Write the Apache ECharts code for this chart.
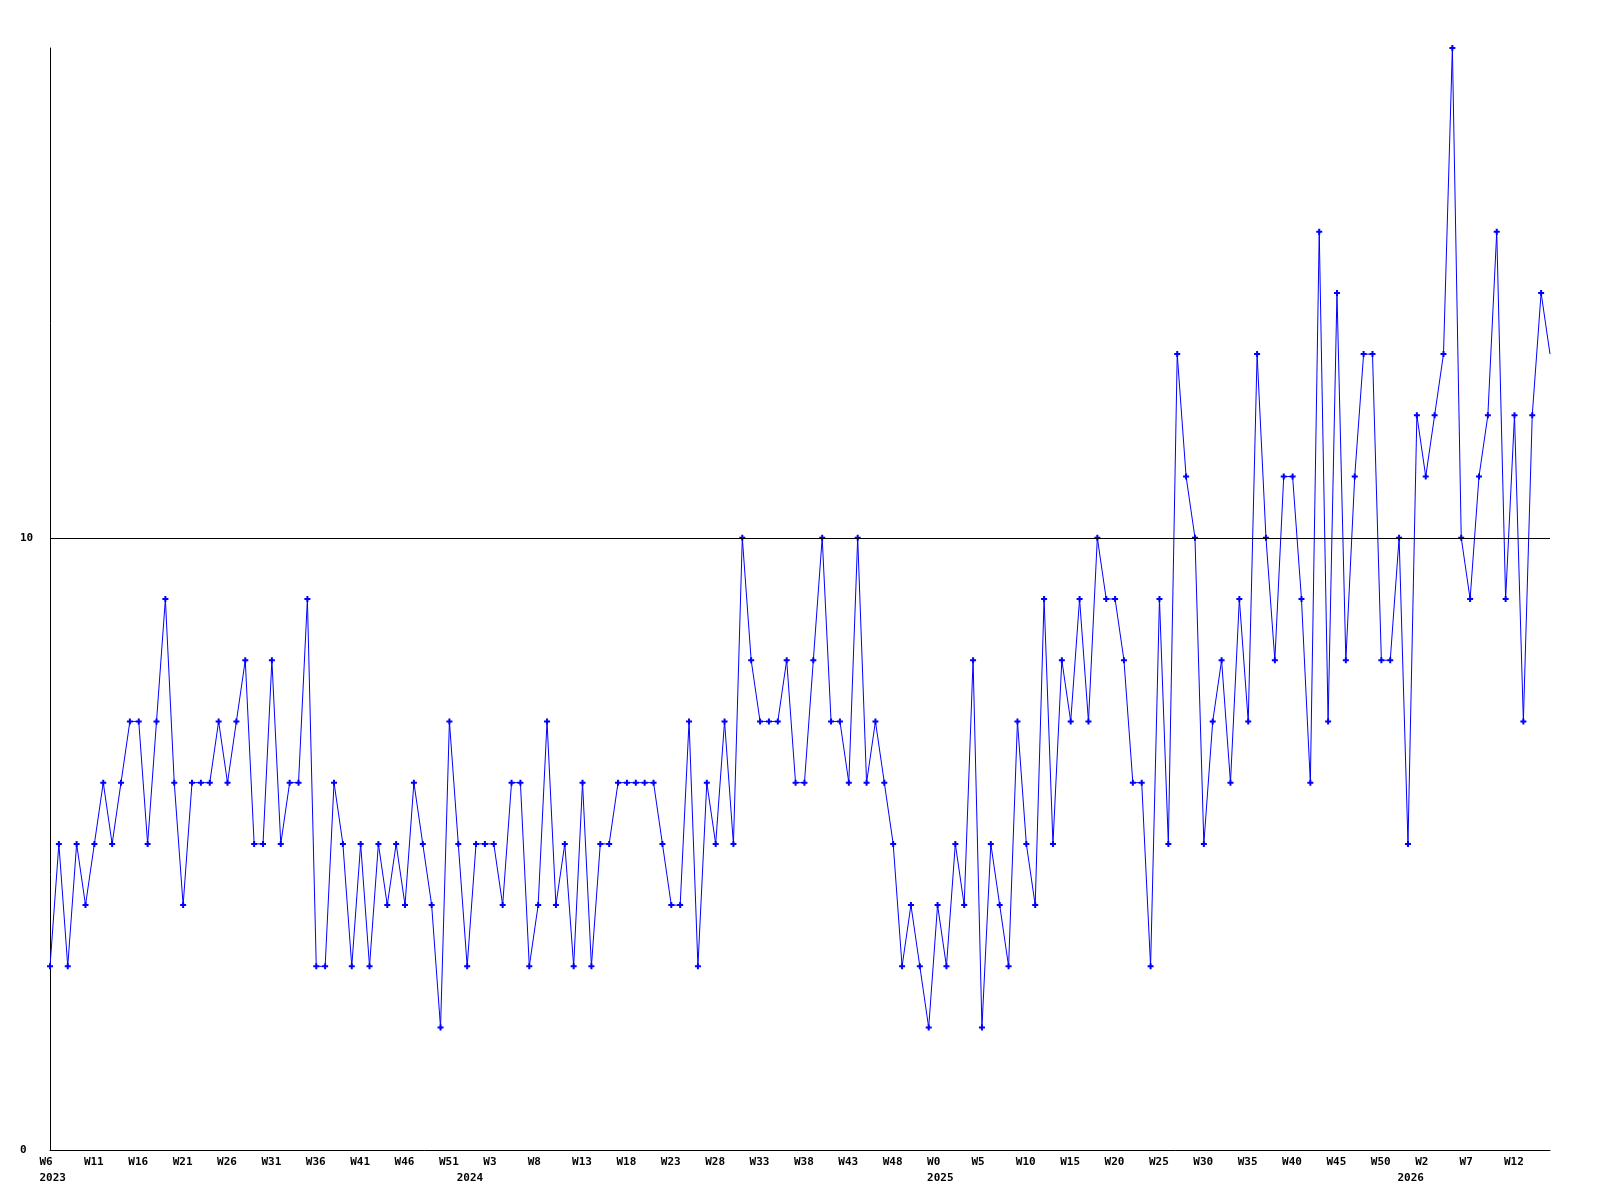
<!DOCTYPE html>
<html>
<head>
<meta charset="utf-8">
<script src="https://cdn.jsdelivr.net/npm/echarts@6/dist/echarts.min.js"></script>
<style>
html,body{margin:0;padding:0;background:#fff;}
#chart{width:1600px;height:1200px;}
</style>
</head>
<body>
<div id="chart"></div>
<script>
// Week ranges per year (week numbers as shown on the axis)
const yearSegments = [
  { year: '2023', first: 6, last: 52 },
  { year: '2024', first: 0, last: 52 },
  { year: '2025', first: 0, last: 52 },
  { year: '2026', first: 0, last: 16 }
];

// Weekly values
const values2023 = [3,5,3,5,4,5,6,5,6,7,7,5,7,9,6,4,6,6,6,7,6,7,8,5,5,8,5,6,6,9,
                    3,3,6,5,3,5,3,5,4,5,4,6,5,4,2,7,5];
const values2024 = [3,5,5,5,4,6,6,3,4,7,4,5,
                    3,6,3,5,5,6,6,6,6,6,5,4,4,7,3,6,5,7,5,10,8,7,7,7,8,6,6,8,10,
                    7,7,6,10,6,7,6,5,3,4,3,2];
const values2025 = [4,3,5,4,8,2,5,4,3,7,5,4,9,5,8,7,9,7,
                    10,9,9,8,6,6,3,9,5,13,11,10,5,7,8,6,9,7,13,10,8,11,11,9,6,15,7,14,
                    8,11,13,13,8,8,10];
const values2026 = [5,12,11,12,13,18,10,9,11,12,15,9,12,7,12,14,13];

const values = [].concat(values2023, values2024, values2025, values2026);

const yTickLabels = ['0', '10'];

// Build category labels from the week ranges
const weekLabels = [];
const yearRow = [];
yearSegments.forEach(function (s) {
  for (let w = s.first; w <= s.last; w++) {
    weekLabels.push('W' + w);
    yearRow.push(w === s.first ? s.year : '');
  }
});

const FONT = 'DejaVu Sans Mono';
const MARK = 'path://M1,0H2V1H3V2H2V3H1V2H0V1H1Z';
const chart = echarts.init(document.getElementById('chart'), null, { renderer: 'canvas' });

chart.setOption({
  backgroundColor: '#ffffff',
  animation: false,
  grid: { left: 50, right: 50, top: 48, bottom: 50, containLabel: false },
  xAxis: [
    {
      type: 'category',
      data: weekLabels,
      boundaryGap: false,
      position: 'bottom',
      axisLine: { show: true, lineStyle: { color: '#000', width: 1 } },
      axisTick: { show: false },
      splitLine: { show: false },
      axisLabel: {
        interval: 4,
        margin: 7,
        formatter: function (v) { return '{a|' + v + '}'; },
        rich: {
          a: { width: 21, align: 'left', fontFamily: FONT, fontWeight: 'bold', fontSize: 11, color: '#000' }
        }
      }
    },
    {
      type: 'category',
      data: yearRow,
      boundaryGap: false,
      position: 'bottom',
      axisLine: { show: false },
      axisTick: { show: false },
      splitLine: { show: false },
      axisLabel: {
        interval: 0,
        margin: 23,
        formatter: function (v) { return v ? '{a|' + v + '}' : ''; },
        rich: {
          a: { width: 21, align: 'left', fontFamily: FONT, fontWeight: 'bold', fontSize: 11, color: '#000' }
        }
      }
    }
  ],
  yAxis: {
    type: 'value',
    min: 0,
    max: 18,
    interval: 10,
    axisLine: { show: true, lineStyle: { color: '#000', width: 1 } },
    axisTick: { show: false },
    splitLine: { show: false },
    axisLabel: {
      showMaxLabel: false,
      align: 'left',
      margin: 30,
      fontFamily: FONT,
      fontWeight: 'bold',
      fontSize: 11,
      color: '#000',
      formatter: function (v) { return yTickLabels.indexOf(String(v)) >= 0 ? String(v) : ''; }
    }
  },
  series: [
    {
      type: 'line',
      xAxisIndex: 0,
      data: values,
      symbol: function (val, params) {
        return params.dataIndex === values.length - 1 ? 'none' : MARK;
      },
      symbolSize: 6,
      showSymbol: true,
      showAllSymbol: true,
      lineStyle: { color: '#0000ff', width: 1 },
      itemStyle: { color: '#0000ff' },
      emphasis: { disabled: true },
      markLine: {
        silent: true,
        symbol: ['none', 'none'],
        label: { show: false },
        lineStyle: { color: '#000', width: 1, type: 'solid' },
        data: [{ yAxis: 10 }]
      }
    }
  ]
});
</script>
</body>
</html>
